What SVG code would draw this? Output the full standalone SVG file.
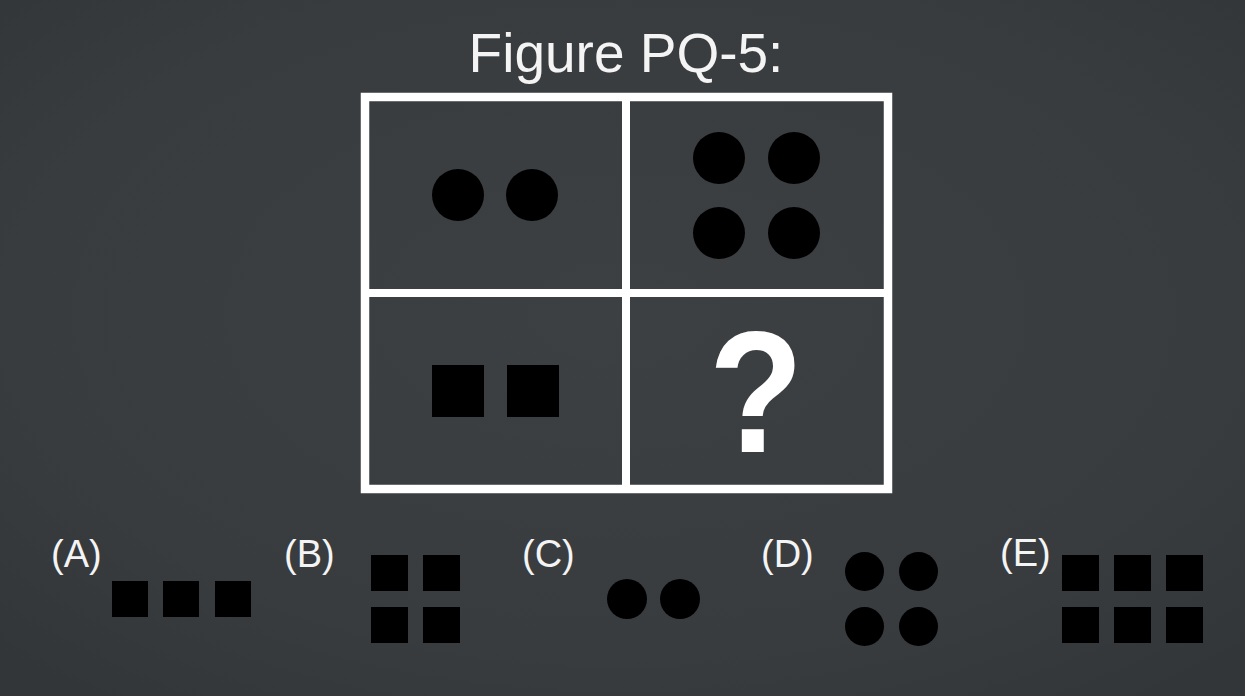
<svg xmlns="http://www.w3.org/2000/svg" width="1245" height="696" viewBox="0 0 1245 696">
  <defs>
    <radialGradient id="bg" cx="50%" cy="45%" r="70%">
      <stop offset="0" stop-color="#3c4043"/>
      <stop offset="0.7" stop-color="#383c3f"/>
      <stop offset="1" stop-color="#323639"/>
    </radialGradient>
  </defs>
  <style>
    .lbl { font-family: "Liberation Sans", Arial, sans-serif; font-size: 38px; fill: #f4f4f4; }
    .title { font-family: "Liberation Sans", Arial, sans-serif; font-size: 55px; fill: #f4f4f4; }
    .q { font-family: "Liberation Sans", Arial, sans-serif; font-size: 172px; font-weight: bold; fill: #ffffff; }
    .shape { fill: #000000; }
    .frame { fill: none; stroke: #ffffff; stroke-width: 8.5; }
    .div { stroke: #ffffff; stroke-width: 8; }
  </style>
  <rect x="0" y="0" width="1245" height="696" fill="url(#bg)"/>

  <g id="title">
    <text class="title" x="626" y="72" text-anchor="middle">Figure PQ-5:</text>
  </g>

  <g id="grid">
    <rect class="frame" x="365" y="97" width="523" height="392"/>
    <line class="div" x1="626" y1="97" x2="626" y2="489"/>
    <line class="div" x1="365" y1="293" x2="888" y2="293"/>
  </g>

  <g id="cell-top-left">
    <circle class="shape" cx="458" cy="195" r="26"/>
    <circle class="shape" cx="532" cy="195" r="26"/>
  </g>

  <g id="cell-top-right">
    <circle class="shape" cx="719" cy="158" r="26"/>
    <circle class="shape" cx="794" cy="158" r="26"/>
    <circle class="shape" cx="719" cy="233" r="26"/>
    <circle class="shape" cx="794" cy="233" r="26"/>
  </g>

  <g id="cell-bottom-left">
    <rect class="shape" x="432" y="365" width="52" height="52"/>
    <rect class="shape" x="507" y="365" width="52" height="52"/>
  </g>

  <g id="cell-bottom-right">
    <text class="q" x="0" y="452" text-anchor="middle" transform="translate(756 0) scale(0.9 1)">?</text>
  </g>

  <g id="option-A">
    <text class="lbl" x="51" y="567">(A)</text>
    <rect class="shape" x="112" y="581" width="36" height="36"/>
    <rect class="shape" x="163" y="581" width="36" height="36"/>
    <rect class="shape" x="215" y="581" width="36" height="36"/>
  </g>

  <g id="option-B">
    <text class="lbl" x="284" y="567">(B)</text>
    <rect class="shape" x="371" y="555" width="37" height="36"/>
    <rect class="shape" x="423" y="555" width="37" height="36"/>
    <rect class="shape" x="371" y="607" width="37" height="36"/>
    <rect class="shape" x="423" y="607" width="37" height="36"/>
  </g>

  <g id="option-C">
    <text class="lbl" x="522" y="567">(C)</text>
    <circle class="shape" cx="627" cy="599" r="20"/>
    <circle class="shape" cx="680" cy="599" r="20"/>
  </g>

  <g id="option-D">
    <text class="lbl" x="761" y="567">(D)</text>
    <circle class="shape" cx="864.5" cy="571.5" r="19.5"/>
    <circle class="shape" cx="918.5" cy="571.5" r="19.5"/>
    <circle class="shape" cx="864.5" cy="626.5" r="19.5"/>
    <circle class="shape" cx="918.5" cy="626.5" r="19.5"/>
  </g>

  <g id="option-E">
    <text class="lbl" x="1000" y="566">(E)</text>
    <rect class="shape" x="1062" y="555" width="37" height="36"/>
    <rect class="shape" x="1114" y="555" width="37" height="36"/>
    <rect class="shape" x="1166" y="555" width="37" height="36"/>
    <rect class="shape" x="1062" y="607" width="37" height="36"/>
    <rect class="shape" x="1114" y="607" width="37" height="36"/>
    <rect class="shape" x="1166" y="607" width="37" height="36"/>
  </g>

  <g id="connectors"></g>
</svg>
